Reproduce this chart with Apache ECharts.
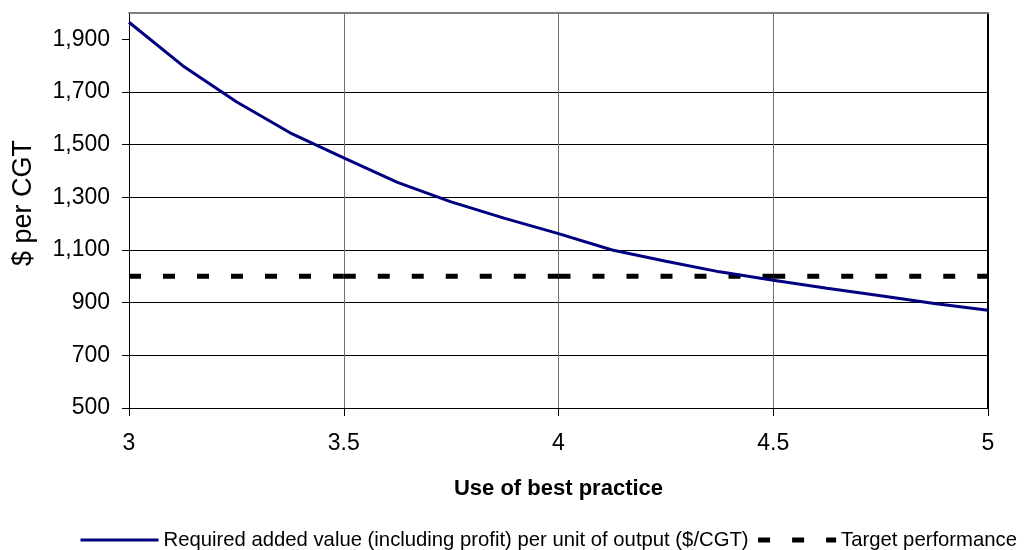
<!DOCTYPE html>
<html><head><meta charset="utf-8">
<script src="https://cdn.jsdelivr.net/npm/echarts@6/dist/echarts.min.js"></script>
<style>html,body{margin:0;padding:0;background:#fff}#c{width:1024px;height:550px}</style>
</head><body><div id="c"></div>
<script>
// ---- data ----
const xValues = [3, 3.125, 3.25, 3.375, 3.5, 3.625, 3.75, 3.875, 4, 4.125, 4.25, 4.375, 4.5, 4.625, 4.75, 4.875, 5];
const requiredValues = [1965, 1800, 1663, 1545, 1450, 1357, 1283, 1220, 1162, 1100, 1057, 1017, 985, 955, 926, 897, 871];
const targetX = [3, 3.5, 4, 4.5, 5];
const targetValues = [1000, 1000, 1000, 1000, 1000];
const xTicks = [3, 3.5, 4, 4.5, 5];
const yTicks = [500, 700, 900, 1100, 1300, 1500, 1700, 1900];
const seriesNames = ['Required added value (including profit) per unit of output ($/CGT)', 'Target performance'];
const xTitle = 'Use of best practice';
const yTitle = '$ per CGT';

const FONT = "'Liberation Sans', Arial, sans-serif";
const chart = echarts.init(document.getElementById('c'), null, {renderer: 'canvas'});

const series = [{
  name: seriesNames[0], type: 'line', xAxisIndex: 0, yAxisIndex: 0,
  symbol: 'none', smooth: false, z: 3,
  lineStyle: {color: '#000080', width: 3},
  itemStyle: {color: '#000080'},
  data: xValues.map((x, i) => [x, requiredValues[i]])
}];
for (let i = 0; i < targetX.length - 1; i++) {
  series.push({
    name: seriesNames[1], type: 'line', xAxisIndex: 0, yAxisIndex: 0,
    symbol: 'none', z: 2,
    lineStyle: {color: '#000', width: 5, type: [12, 22], cap: 'butt'},
    itemStyle: {color: '#000'},
    data: [[targetX[i], targetValues[i]], [targetX[i + 1], targetValues[i + 1]]]
  });
}

chart.setOption({
  animation: false,
  backgroundColor: '#fff',
  textStyle: {fontFamily: FONT, color: '#000'},
  grid: {left: 129, right: 36, top: 13, bottom: 142, containLabel: false},
  legend: {
    left: 74, top: 525, width: 990, padding: 5, itemWidth: 78, itemHeight: 14, itemGap: 7,
    textStyle: {fontSize: 20.3, color: '#000', fontFamily: FONT},
    itemStyle: {color: 'rgba(0,0,0,0)', borderColor: 'rgba(0,0,0,0)', borderWidth: 0, opacity: 0},
    lineStyle: {width: 'inherit'},
    data: seriesNames
  },
  xAxis: [{
    type: 'value', min: 3, max: 5, interval: 0.5, position: 'bottom',
    axisLine: {show: true, onZero: false, lineStyle: {color: '#000', width: 1}},
    axisTick: {show: true, length: 8, inside: false, lineStyle: {color: '#000', width: 1}},
    axisLabel: {show: true, fontSize: 23, color: '#000', margin: 24, fontFamily: FONT,
      formatter: v => String(v)},
    splitLine: {show: true, showMinLine: false, showMaxLine: false, lineStyle: {color: '#707070', width: 1}},
    name: xTitle, nameLocation: 'middle', nameGap: 70,
    nameTextStyle: {fontSize: 22, fontWeight: 'bold', color: '#000', fontFamily: FONT}
  }, {
    type: 'value', min: 3, max: 5, position: 'top',
    axisLine: {show: true, onZero: false, lineStyle: {color: '#808080', width: 2}},
    axisTick: {show: false}, axisLabel: {show: false}, splitLine: {show: false}
  }],
  yAxis: [{
    type: 'value', min: 500, max: 2000, interval: 200, position: 'left',
    axisLine: {show: true, onZero: false, lineStyle: {color: '#000', width: 1}},
    axisTick: {show: true, length: 7, inside: false, customValues: yTicks, lineStyle: {color: '#000', width: 1}},
    axisLabel: {show: true, fontSize: 23, color: '#000', margin: 19, fontFamily: FONT, customValues: yTicks,
      formatter: v => yTicks.includes(v) ? v.toLocaleString('en-US') : ''},
    splitLine: {show: true, showMinLine: false, showMaxLine: false, lineStyle: {color: '#000', width: 1}},
    name: yTitle, nameLocation: 'middle', nameGap: 92,
    nameTextStyle: {fontSize: 27, color: '#000', fontFamily: FONT, padding: [0, 0, 0, 15]}
  }, {
    type: 'value', min: 500, max: 2000, position: 'right',
    axisLine: {show: true, onZero: false, lineStyle: {color: '#000', width: 2}},
    axisTick: {show: false}, axisLabel: {show: false}, splitLine: {show: false}
  }],
  series: series
});
</script>
</body></html>
